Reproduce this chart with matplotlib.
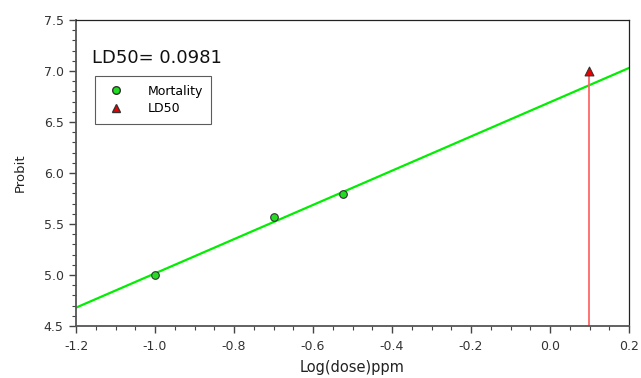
import matplotlib
matplotlib.use("Agg")
import matplotlib.pyplot as plt
from matplotlib.ticker import MultipleLocator
from matplotlib.lines import Line2D

# observed mortality (probit vs log dose)
log_dose = [-1.0, -0.699, -0.523]
probit = [5.0, 5.57, 5.79]

# regression line endpoints across the axis range
fit_x = [-1.2, 0.2]
fit_y = [4.68, 7.03]

# LD50 marker
ld50_x = 0.0981
ld50_y = 7.0
ld50_label = "LD50= 0.0981"

plt.rcParams["font.family"] = ["DejaVu Sans"]

fig = plt.figure(figsize=(6.41, 3.78), dpi=100)
ax = fig.add_axes([0.1186, 0.1376, 0.8627, 0.8094])

ax.plot(fit_x, fit_y, color="#00ee00", lw=1.6, zorder=2)
ax.plot([ld50_x, ld50_x], [4.5, ld50_y], color="#ff6666", lw=1.3, zorder=2)
ax.scatter(log_dose, probit, s=30, color="#22dd22", edgecolor="#333333",
           linewidth=0.8, zorder=3)
ax.scatter([ld50_x], [ld50_y], marker="^", s=40, color="#ee0000",
           edgecolor="#333333", linewidth=0.8, zorder=3)

ax.set_xlim(-1.2, 0.2)
ax.set_ylim(4.5, 7.5)
ax.xaxis.set_major_locator(MultipleLocator(0.2))
ax.xaxis.set_minor_locator(MultipleLocator(0.05))
ax.yaxis.set_major_locator(MultipleLocator(0.5))
ax.yaxis.set_minor_locator(MultipleLocator(0.1))
ax.xaxis.set_major_formatter(plt.FuncFormatter(lambda v, p: f"{v:.1f}"))
ax.yaxis.set_major_formatter(plt.FuncFormatter(lambda v, p: f"{v:.1f}"))

ax.tick_params(which="major", length=5, width=1, color="#444444",
               labelsize=9, labelcolor="#333333", pad=4)
ax.tick_params(which="minor", length=3, width=0.8, color="#444444")
ax.tick_params(axis="x", pad=5)

for s in ["left", "bottom"]:
    ax.spines[s].set_color("#555555")
    ax.spines[s].set_linewidth(1.3)
for s in ["top", "right"]:
    ax.spines[s].set_color("#222222")
    ax.spines[s].set_linewidth(0.9)

ax.set_xlabel("Log(dose)ppm", fontsize=10.5, color="#222222", labelpad=5)
ax.set_ylabel("Probit", fontsize=9.5, color="#222222", labelpad=12)

ax.text(0.029, 0.875, ld50_label, transform=ax.transAxes, fontsize=13,
        color="#111111", va="center")

handles = [
    Line2D([], [], marker="o", ls="", color="#22dd22", mec="#333333",
           markersize=5.5, label="Mortality"),
    Line2D([], [], marker="^", ls="", color="#ee0000", mec="#333333",
           markersize=6, label="LD50"),
]
leg = ax.legend(handles=handles, loc="upper left",
                bbox_to_anchor=(0.034, 0.817), borderaxespad=0, fontsize=9,
                frameon=True, fancybox=False, edgecolor="#333333",
                borderpad=0.7, handletextpad=1.5, labelspacing=0.35)
leg.get_frame().set_linewidth(0.8)

fig.savefig("out.png", dpi=100)
